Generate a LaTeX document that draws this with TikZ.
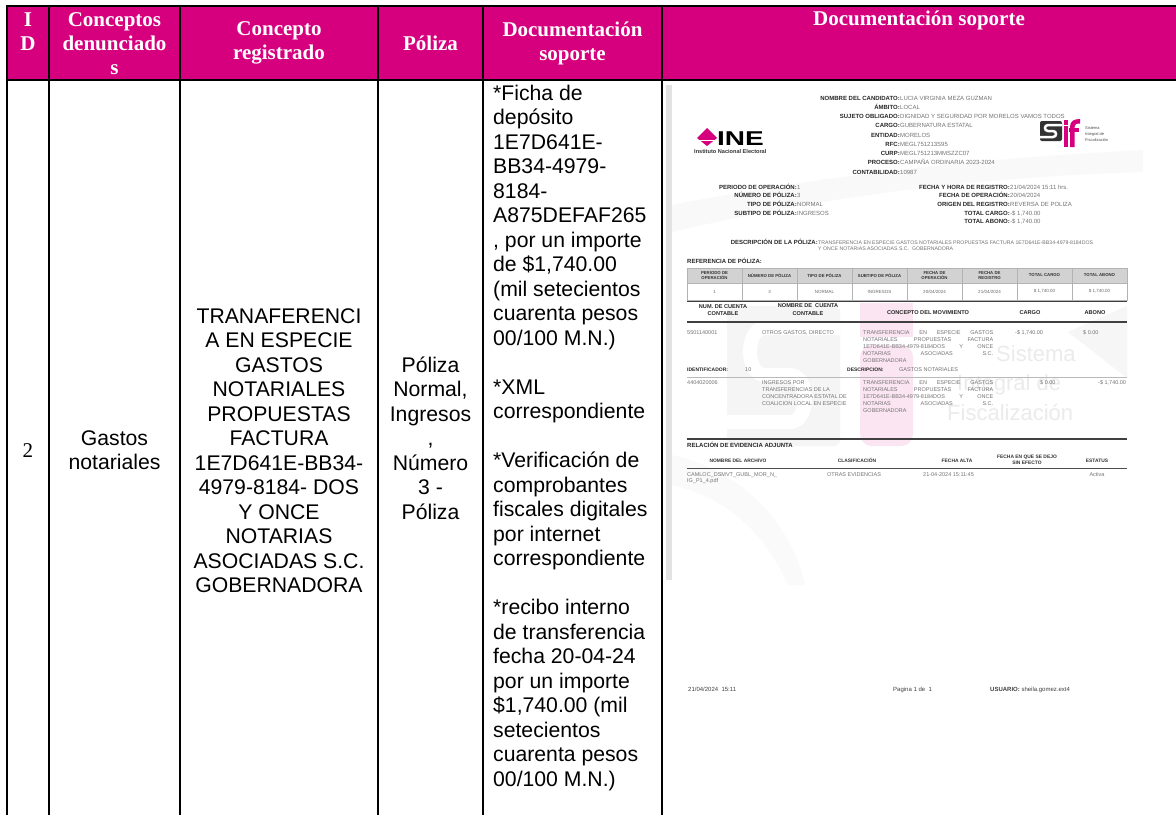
\documentclass[tikz,border=0pt]{standalone}
\usepackage{fontspec}
\usepackage{graphicx}
\setmainfont{Liberation Sans}
\newfontfamily\timesfont{Liberation Serif}

\definecolor{inemag}{RGB}{214,0,127}

\tikzset{
  hdr/.style={text=white, font=\timesfont\bfseries\fontsize{21}{24}\selectfont, align=center, inner sep=0pt},
  cell/.style={font=\fontsize{21.2}{24.5}\selectfont, inner sep=0pt, anchor=base},
  rule/.style={line width=2pt},
  scanlab/.style={font=\bfseries\fontsize{6}{7}\selectfont, text=black!85, inner sep=0pt, anchor=base east},
  scanval/.style={font=\fontsize{6}{7}\selectfont, text=black!55, inner sep=0pt, anchor=base west},
  scanrow/.style={font=\fontsize{5.5}{7.1}\selectfont, text=black!55, inner sep=0pt, anchor=base west},
  scanhead/.style={font=\bfseries\fontsize{5.6}{7.5}\selectfont, text=black!85, inner sep=0pt, align=center},
  thead/.style={font=\bfseries\fontsize{4.3}{4.8}\selectfont, text=black!80, inner sep=0pt, align=center},
  tval/.style={font=\fontsize{4.5}{5}\selectfont, text=black!60, inner sep=0pt},
  wmark/.style={font=\fontsize{22}{24}\selectfont, text=gray!16, inner sep=0pt, anchor=base west},
}

\begin{document}
\begin{tikzpicture}[x=1pt, y=-1pt]
    \useasboundingbox (0,0) rectangle (1176,815);

    % Header band and table rules
    \fill[inemag] (7,6) rectangle (1176,80);
    \foreach \x in {7, 49, 180, 378, 483, 662}
        \draw[rule] (\x,5) -- (\x,815);
    \draw[rule] (6,6) -- (1176,6);
    \draw[rule] (6,80) -- (1176,80);

    % Header labels
    \node[hdr, anchor=north] (hid) at (28,12.5) {I\\D};
    \node[hdr, anchor=north] (hden) at (114.5,12.5) {Conceptos\\denunciado\\s};
    \node[hdr] (hreg) at (279,43) {Concepto\\registrado};
    \node[hdr] (hpol) at (430.5,43) {Póliza};
    \node[hdr] (hdoc) at (572.5,43) {Documentación\\soporte};
    \node[hdr, anchor=base] (hsop) at (919,25) {Documentación soporte};

    % Row 2
    \node[cell, font=\timesfont\fontsize{21}{24}\selectfont] (id2) at (28,457) {2};
    \node[cell] (gas1) at (114.5,445) {Gastos};
    \node[cell] (gas2) at (114.5,469.5) {notariales};

    \foreach \t [count=\i from 0] in {TRANAFERENCI, A EN ESPECIE, GASTOS, NOTARIALES,
        PROPUESTAS, FACTURA, 1E7D641E-BB34-, 4979-8184- DOS, Y ONCE, NOTARIAS,
        ASOCIADAS S.C., GOBERNADORA}
        \node[cell] (reg\i) at (279, 323+24.5*\i) {\t};

    \foreach \t [count=\i from 0] in {Póliza, {Normal,}, Ingresos, {,}, Número, 3 -, Póliza}
        \node[cell] (pol\i) at (430.5, 372+24.5*\i) {\t};

    \foreach \i/\t in {0/{*Ficha de}, 1/{depósito}, 2/{1E7D641E-}, 3/{BB34-4979-}, 4/{8184-},
        5/{A875DEFAF265}, 6/{, por un importe}, 7/{de \$1,740.00}, 8/{(mil setecientos},
        9/{cuarenta pesos}, 10/{00/100 M.N.)}, 12/{*XML}, 13/{correspondiente},
        15/{*Verificación de}, 16/{comprobantes}, 17/{fiscales digitales}, 18/{por internet},
        19/{correspondiente}, 21/{*recibo interno}, 22/{de transferencia}, 23/{fecha 20-04-24},
        24/{por un importe}, 25/{\$1,740.00 (mil}, 26/{setecientos}, 27/{cuarenta pesos},
        28/{00/100 M.N.)}}
        \node[cell, anchor=base west] (doc\i) at (493, 100+24.5*\i) {\t};

    % Scanned page
    \fill[white] (663,80.5) rectangle (1143,703);
    \fill[gray!5] (672,205) .. controls (800,180) and (950,160) .. (1143,150) -- (1143,172)
        .. controls (950,178) and (800,202) .. (672,232) -- cycle;
    \fill[gray!7] (1127,306) -- (1127,378) -- (1068,332) -- cycle;
    \fill[gray!4] (672,455) .. controls (740,470) and (790,520) .. (805,585) -- (788,585)
        .. controls (765,532) and (725,497) .. (672,485) -- cycle;
    \fill[gray!22] (666,85) rectangle (672,580);

    % Watermark logo
    \fill[gray!8, rounded corners=6] (727,306) rectangle (840,446);
    \draw[white, line width=14] (840,328) -- (765,328) .. controls (745,328) and (745,375) .. (765,375)
        -- (790,375) .. controls (810,375) and (810,422) .. (790,422) -- (727,422);
    \fill[inemag!10] (860,303) rectangle (913,337);
    \fill[inemag!10, rounded corners=12] (860,345) rectangle (913,446);
    \node[wmark] (wm1) at (996,361) {Sistema};
    \node[wmark] (wm2) at (957,390) {Integral de};
    \node[wmark] (wm3) at (947,420) {Fiscalización};

    % INE logo
    \fill[inemag] (697,138) -- (707,128) -- (717,138) -- (707,146) -- cycle;
    \draw[white, line width=0.8] (697,140) -- (717,140);
    \node[anchor=base west, inner sep=0pt, font=\bfseries\fontsize{20}{20}\selectfont] (ine)
        at (717,145.5) {\scalebox{1.4}[1]{INE}};
    \node[anchor=base west, inner sep=0pt, font=\bfseries\fontsize{5.6}{6}\selectfont, text=black!80] (inst)
        at (694,153) {Instituto Nacional Electoral};

    % SIF logo
    \fill[black!80, rounded corners=2] (1040,121) rectangle (1062,141);
    \draw[white, line width=2.5] (1062,125) -- (1048,125) .. controls (1044,125) and (1044,131) .. (1048,131)
        -- (1053,131) .. controls (1057,131) and (1057,137) .. (1053,137) -- (1040,137);
    \fill[inemag] (1063.5,120) rectangle (1068,124.5);
    \fill[inemag] (1063.5,126) rectangle (1068,147);
    \fill[inemag] (1070,147) -- (1070,127) .. controls (1070,121) and (1074,119) .. (1080,119)
        -- (1080,123.5) .. controls (1076,123.5) and (1074.5,124.5) .. (1074.5,127) -- (1074.5,147) -- cycle;
    \fill[inemag] (1068.5,128) rectangle (1079,132);
    \foreach \t [count=\i from 0] in {Sistema, Integral de, Fiscalización}
        \node[anchor=base west, inner sep=0pt, font=\fontsize{4}{5}\selectfont, text=black!70] (sif\i)
            at (1085, 129+6*\i) {\t};

    % Candidate data
    \foreach \l/\v [count=\i from 0] in {NOMBRE DEL CANDIDATO:/LUCIA VIRGINIA MEZA GUZMAN,
        ÁMBITO:/LOCAL, SUJETO OBLIGADO:/DIGNIDAD Y SEGURIDAD POR MORELOS VAMOS TODOS,
        CARGO:/GUBERNATURA ESTATAL, ENTIDAD:/MORELOS, RFC:/MEGL751213S95,
        CURP:/MEGL751213MMSZZC07, PROCESO:/CAMPAÑA ORDINARIA 2023-2024, CONTABILIDAD:/10987}
    {
        \node[scanlab] (cl\i) at (900, 100+9.25*\i) {\l};
        \node[scanval] (cv\i) at (cl\i.base east) {\v};
    }

    % Policy data
    \foreach \l/\v [count=\i from 0] in {PERIODO DE OPERACIÓN:/1, NÚMERO DE PÓLIZA:/3,
        TIPO DE PÓLIZA:/NORMAL, SUBTIPO DE PÓLIZA:/INGRESOS}
    {
        \node[scanlab] (pl\i) at (797, 189+8.7*\i) {\l};
        \node[scanval] (pv\i) at (pl\i.base east) {\v};
    }
    \foreach \l/\v [count=\i from 0] in {{FECHA Y HORA DE REGISTRO:}/{21/04/2024 15:11 hrs.},
        {FECHA DE OPERACIÓN:}/{20/04/2024}, {ORIGEN DEL REGISTRO:}/{REVERSA DE POLIZA},
        {TOTAL CARGO:}/{-\$ 1,740.00}, {TOTAL ABONO:}/{-\$ 1,740.00}}
    {
        \node[scanlab] (rl\i) at (1010, 189+8.7*\i) {\l};
        \node[scanval] (rv\i) at (rl\i.base east) {\v};
    }

    \node[scanlab] (desl) at (818,244) {DESCRIPCIÓN DE LA PÓLIZA:};
    \node[scanval, font=\fontsize{5.2}{6}\selectfont] (desv) at (desl.base east) {TRANSFERENCIA EN ESPECIE GASTOS NOTARIALES PROPUESTAS FACTURA 1E7D641E-BB34-4979-8184DOS};
    \node[scanval, font=\fontsize{5.2}{6}\selectfont] (desv2) at (818,250.5) {Y ONCE NOTARIAS ASOCIADAS S.C.\ \ GOBERNADORA};
    \node[scanlab, anchor=base west] (refl) at (687,263) {REFERENCIA DE PÓLIZA:};

    % Policy reference table
    \fill[gray!35] (687,268) rectangle (1127,283);
    \draw[gray!60, line width=0.6] (687,268) rectangle (1127,300);
    \draw[gray!60, line width=0.6] (687,283) -- (1127,283);
    \foreach \k in {1,...,7}
        \draw[gray!60, line width=0.6] (687+55*\k,268) -- (687+55*\k,300);
    \foreach \h/\v [count=\k from 0] in {{PERIODO DE\\OPERACIÓN}/1, {NÚMERO DE PÓLIZA}/3,
        {TIPO DE PÓLIZA}/NORMAL, {SUBTIPO DE PÓLIZA}/INGRESOS, {FECHA DE\\OPERACIÓN}/{20/04/2024},
        {FECHA DE\\REGISTRO}/{21/04/2024}, {TOTAL CARGO}/{\$ 1,740.00}, {TOTAL ABONO}/{\$ 1,740.00}}
    {
        \node[thead] (th\k) at (714.5+55*\k, 275.5) {\h};
        \node[tval] (tv\k) at (714.5+55*\k, 291.5) {\v};
    }

    % Movements
    \draw[black!75, line width=1.6] (687,301.5) -- (1127,301.5);
    \node[scanhead] (mh1) at (723,310) {NUM. DE CUENTA\\CONTABLE};
    \node[scanhead] (mh2) at (808,309.5) {NOMBRE DE\ \ CUENTA\\CONTABLE};
    \node[scanhead] (mh3) at (928,313) {CONCEPTO DEL MOVIMIENTO};
    \node[scanhead] (mh4) at (1030,313) {CARGO};
    \node[scanhead] (mh5) at (1095,313) {ABONO};
    \draw[black!75, line width=1.6] (687,322) -- (1127,322);

    \node[scanrow] (m1a) at (687,334) {5501140001};
    \node[scanrow] (m1b) at (762,334) {OTROS GASTOS, DIRECTO};
    \node[scanrow] (m1c) at (1015,334) {-\$ 1,740.00};
    \node[scanrow] (m1d) at (1083,334) {\$ 0.00};
    \node[scanlab, anchor=base west, font=\bfseries\fontsize{5}{6}\selectfont] (idl) at (687,371) {IDENTIFICADOR:};
    \node[scanrow] (idv) at (745,371) {10};
    \node[scanlab, anchor=base west, font=\bfseries\fontsize{5}{6}\selectfont] (dsl) at (847,371) {DESCRIPCION:};
    \node[scanrow] (dsv) at (899,371) {GASTOS NOTARIALES};
    \draw[gray!55, line width=0.6] (687,377.5) -- (1127,377.5);

    \node[scanrow] (m2a) at (687,384.5) {4404020006};
    \foreach \t [count=\i from 0] in {INGRESOS POR, TRANSFERENCIAS DE LA,
        CONCENTRADORA ESTATAL DE, COALICION LOCAL EN ESPECIE}
        \node[scanrow] (m2b\i) at (762, 384.5+7.1*\i) {\t};
    \node[scanrow] (m2c) at (1040,384.5) {\$ 0.00};
    \node[scanrow] (m2d) at (1098,384.5) {-\$ 1,740.00};

    \foreach \y/\r in {334/1, 384.5/2}
    {
        \node[scanrow] (c\r a) at (863,\y) {\makebox[130pt][s]{TRANSFERENCIA EN ESPECIE GASTOS}};
        \node[scanrow] (c\r b) at (863,\y+7.1) {\makebox[130pt][s]{NOTARIALES PROPUESTAS FACTURA}};
        \node[scanrow] (c\r c) at (863,\y+14.2) {\makebox[130pt][s]{1E7D641E-BB34-4979-8184DOS Y ONCE}};
        \node[scanrow] (c\r d) at (863,\y+21.3) {\makebox[130pt][s]{NOTARIAS ASOCIADAS S.C.}};
        \node[scanrow] (c\r e) at (863,\y+28.4) {GOBERNADORA};
    }
    \draw[black!75, line width=1.4] (687,439) -- (1127,439);

    % Attached evidence
    \node[scanlab, anchor=base west] (evl) at (687,447) {RELACIÓN DE EVIDENCIA ADJUNTA};
    \node[thead, font=\bfseries\fontsize{4.9}{6.2}\selectfont] (eh1) at (738,460.5) {NOMBRE DEL ARCHIVO};
    \node[thead, font=\bfseries\fontsize{4.9}{6.2}\selectfont] (eh2) at (857,460.5) {CLASIFICACIÓN};
    \node[thead, font=\bfseries\fontsize{4.9}{6.2}\selectfont] (eh3) at (957,460.5) {FECHA ALTA};
    \node[thead, font=\bfseries\fontsize{4.9}{6.2}\selectfont] (eh4) at (1027,459.5) {FECHA EN QUE SE DEJO\\SIN EFECTO};
    \node[thead, font=\bfseries\fontsize{4.9}{6.2}\selectfont] (eh5) at (1097,460.5) {ESTATUS};
    \draw[black!70, line width=0.9] (687,468.5) -- (1127,468.5);
    \node[scanrow] (ev1) at (687,476) {CAMLOC\_DSMVT\_GUBL\_MOR\_N\_};
    \node[scanrow] (ev2) at (687,482) {IG\_P1\_4.pdf};
    \node[scanrow] (ev3) at (827,476) {OTRAS EVIDENCIAS};
    \node[scanrow] (ev4) at (923,476) {21-04-2024 15:11:45};
    \node[scanrow, anchor=base] (ev5) at (1097,476) {Activa};

    % Page footer
    \node[scanval, text=black!75] (ft1) at (688,691) {21/04/2024\ \ 15:11};
    \node[scanval, text=black!75] (ft2) at (893,691) {Pagina 1 de\ \ 1};
    \node[scanval, text=black!75] (ft3) at (990,691) {\textbf{USUARIO:} sheila.gomez.ext4};
\end{tikzpicture}
\end{document}
